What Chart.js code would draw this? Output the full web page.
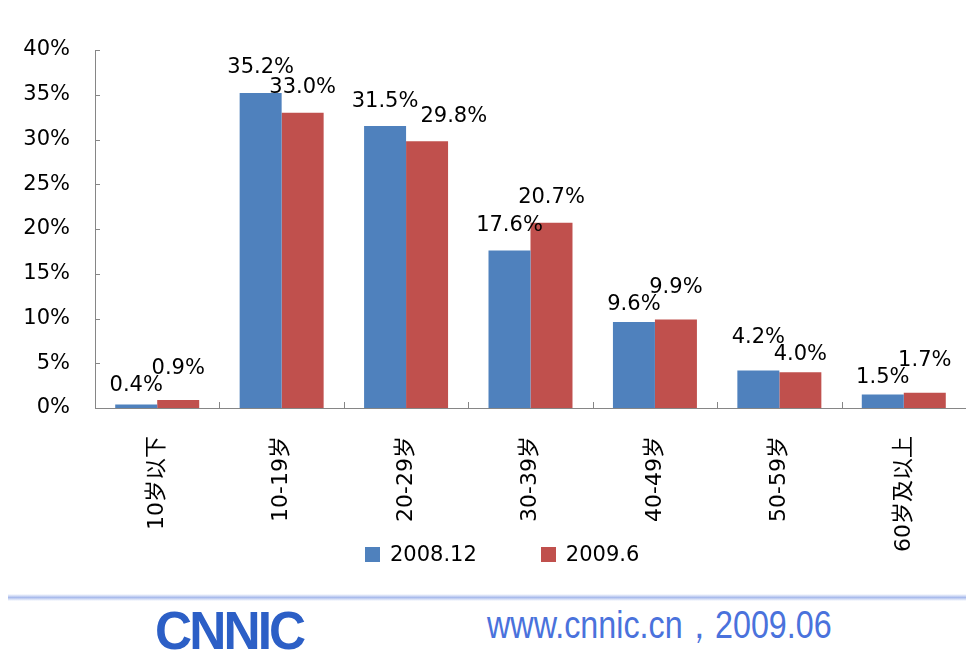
<!DOCTYPE html>
<html>
<head>
<meta charset="utf-8">
<script src="https://cdn.jsdelivr.net/npm/chart.js@4.4.1/dist/chart.umd.min.js"></script>
<style>
   html, body { margin: 0; padding: 0; background: #fff; }
   #wrap { position: relative; width: 966px; height: 653px; overflow: hidden; font-family: "DejaVu Sans", "Noto Sans CJK SC", sans-serif; }
   #chart-box { position: absolute; left: 0; top: 0; width: 966px; height: 590px; }
   #legend { position: absolute; left: 365px; top: 542px; display: flex; gap: 64px; font-size: 21px; color: #000; }
   #legend .item { display: flex; align-items: center; }
   #legend .box { width: 15px; height: 15px; margin-right: 10px; }
   #rule { position: absolute; left: 8px; top: 594px; width: 958px; height: 7px;
      background: linear-gradient(to bottom, rgba(200,212,245,0), #a9bbec 50%, rgba(200,212,245,0)); }
   #logo { position: absolute; left: 155px; top: 604px; font-family: "Liberation Sans", sans-serif;
      font-weight: bold; font-size: 53px; line-height: 53px; color: #2c5fc6; letter-spacing: -3px;
      transform: scaleX(0.97); transform-origin: left top; }
   #site { position: absolute; left: 487px; top: 604px; font-family: "Liberation Sans", sans-serif;
      font-size: 38px; line-height: 42px; color: #4a72dc; white-space: pre;
      transform: scaleX(0.85); transform-origin: left top; }
</style>
</head>
<body>
<div id="wrap">
   <div id="chart-box"><canvas id="myChart" width="966" height="590"></canvas></div>
   <div id="legend"></div>
   <div id="rule"></div>
   <div id="logo">CNNIC</div>
   <div id="site">www.cnnic.cn，2009.06</div>
</div>
<script>
const categories = ['10岁以下', '10-19岁', '20-29岁', '30-39岁', '40-49岁', '50-59岁', '60岁及以上'];
const seriesNames = ['2008.12', '2009.6'];
const values2008 = [0.4, 35.2, 31.5, 17.6, 9.6, 4.2, 1.5];
const values2009 = [0.9, 33.0, 29.8, 20.7, 9.9, 4.0, 1.7];
const seriesColors = ['#4f81bd', '#c0504d'];
const yMin = 0, yMax = 40, yStep = 5;

const axisColor = '#868686';
const fontFamily = '"DejaVu Sans", "Noto Sans CJK SC", sans-serif';

// 축 안쪽으로 들어가는 짧은 눈금
const innerTicks = {
   id: 'innerTicks',
   afterDraw(chart) {
      const ctx = chart.ctx, y = chart.scales.y;
      const area = chart.chartArea;
      ctx.save();
      ctx.strokeStyle = axisColor;
      ctx.lineWidth = 1;
      ctx.beginPath();
      y.ticks.forEach(t => {
         const py = Math.round(y.getPixelForValue(t.value)) + 0.5;
         ctx.moveTo(area.left, py);
         ctx.lineTo(area.left + 5, py);
      });
      const w = (area.right - area.left) / categories.length;
      for (let i = 1; i < categories.length; i++) {
         const px = Math.round(area.left + w * i) + 0.5;
         ctx.moveTo(px, area.bottom);
         ctx.lineTo(px, area.bottom - 6);
      }
      ctx.stroke();
      ctx.restore();
   }
};

// 막대 위 값 라벨 (겹치면 오른쪽으로 밀거나 위아래로 벌리기)
const valueLabels = {
   id: 'valueLabels',
   afterDatasetsDraw(chart) {
      const ctx = chart.ctx;
      ctx.save();
      ctx.font = `21px ${fontFamily}`;
      ctx.fillStyle = '#000';
      ctx.textAlign = 'center';
      ctx.textBaseline = 'middle';
      const m0 = chart.getDatasetMeta(0).data, m1 = chart.getDatasetMeta(1).data;
      const d0 = chart.data.datasets[0].data, d1 = chart.data.datasets[1].data;
      const h = 17;
      for (let i = 0; i < categories.length; i++) {
         const t0 = d0[i].toFixed(1) + '%', t1 = d1[i].toFixed(1) + '%';
         const w0 = ctx.measureText(t0).width, w1 = ctx.measureText(t1).width;
         const a = {x: m0[i].x, y: m0[i].y - 25}, b = {x: m1[i].x, y: m1[i].y - 25};
         const overlapX = (a.x + w0 / 2) - (b.x - w1 / 2);
         const dy = Math.abs(a.y - b.y);
         if (overlapX > 0 && dy < h) {
            if (d1[i] < d0[i] && dy > 8) {
               b.x += overlapX + 2;
            } else {
               const shift = (h - dy) / 2;
               const hi = d0[i] >= d1[i] ? a : b, lo = hi === a ? b : a;
               hi.y -= shift;
               lo.y += shift;
            }
         }
         ctx.fillText(t0, a.x, a.y);
         ctx.fillText(t1, b.x, b.y);
      }
      ctx.restore();
   }
};

const ctx = document.getElementById('myChart').getContext('2d');
const chart = new Chart(ctx, {
   type: 'bar',
   data: {
      labels: categories,
      datasets: [
         {label: seriesNames[0], data: values2008, backgroundColor: seriesColors[0], categoryPercentage: 0.675, barPercentage: 1.0},
         {label: seriesNames[1], data: values2009, backgroundColor: seriesColors[1], categoryPercentage: 0.675, barPercentage: 1.0}
      ]
   },
   options: {
      responsive: false,
      animation: false,
      layout: {padding: {top: 50, right: 0, bottom: 0, left: 0}},
      scales: {
         x: {
            grid: {display: false, drawTicks: false},
            border: {color: axisColor, width: 1},
            ticks: {color: '#000', font: {size: 22, family: fontFamily}, minRotation: 90, maxRotation: 90, autoSkip: false, padding: 28},
            afterFit: scale => { scale.height = 182; }
         },
         y: {
            min: yMin, max: yMax,
            grid: {display: false, drawTicks: false},
            border: {color: axisColor, width: 1},
            ticks: {stepSize: yStep, color: '#000', font: {size: 21, family: fontFamily}, padding: 25, callback: v => v + '%'},
            afterFit: scale => { scale.width = 95; }
         }
      },
      plugins: {legend: {display: false}, tooltip: {enabled: false}}
   },
   plugins: [innerTicks, valueLabels]
});

// 범례는 HTML로 따로 그리기
const legendBox = document.getElementById('legend');
chart.data.datasets.forEach(ds => {
   const item = document.createElement('div');
   item.className = 'item';
   item.innerHTML = `<span class="box" style="background:${ds.backgroundColor}"></span><span>${ds.label}</span>`;
   legendBox.appendChild(item);
});
</script>
</body>
</html>
